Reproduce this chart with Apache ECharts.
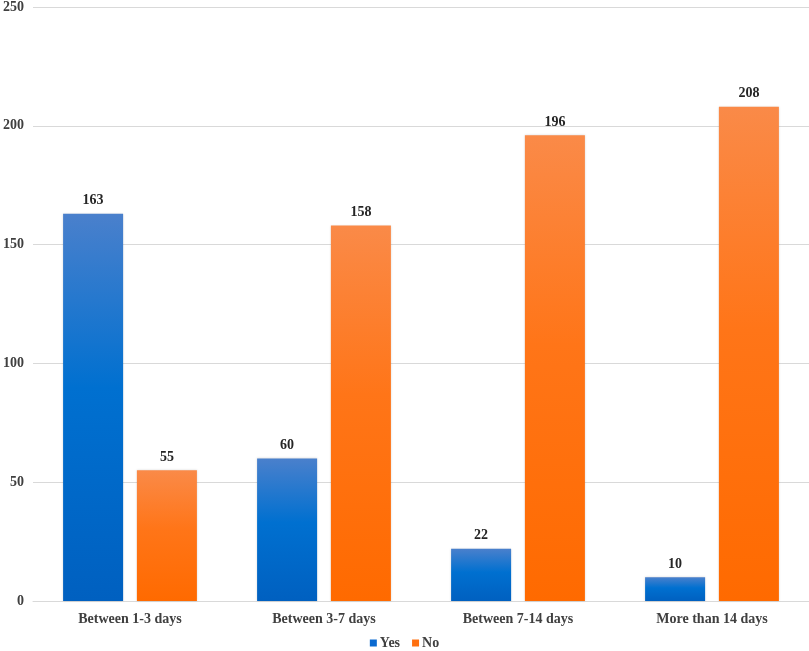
<!DOCTYPE html>
<html>
<head>
<meta charset="UTF-8" />
<script type="text/javascript" src="https://cdn.jsdelivr.net/npm/echarts@6/dist/echarts.min.js"></script>
<title>Duration</title>
<style>
	html, body { margin: 0; padding: 0; background: #fff; }
	#main { width: 809px; height: 651px; }
</style>
</head>
<body>
	<div id="main"></div>
<script type="text/javascript">
	var categories = ['Between 1-3 days', 'Between 3-7 days', 'Between 7-14 days', 'More than 14 days']
	var yesValues = [163, 60, 22, 10]
	var noValues = [55, 158, 196, 208]
	var yTicks = [0, 50, 100, 150, 200, 250]

	var serifFont = '"Liberation Serif", "DejaVu Serif", serif'

	function grad(top, mid, bottom) {
		return new echarts.graphic.LinearGradient(0, 0, 0, 1, [
			{ offset: 0, color: top },
			{ offset: 0.45, color: mid },
			{ offset: 1, color: bottom }
		])
	}

	var labelStyle = {
		show: true,
		position: 'top',
		distance: 6,
		fontFamily: serifFont,
		fontWeight: 'bold',
		fontSize: 14,
		color: '#262626'
	}

	var option = {
		animation: false,
		grid: { left: 33, right: 0, top: 7, bottom: 50, containLabel: false },
		legend: {
			bottom: 1,
			left: 'center',
			padding: 0,
			itemWidth: 7,
			itemHeight: 7,
			itemGap: 12,
			icon: 'rect',
			textStyle: { fontFamily: serifFont, fontWeight: 'bold', fontSize: 14, color: '#404040', padding: [0, 0, 0, -2] },
			data: [
				{ name: 'Yes', itemStyle: { color: '#0a6ad0' } },
				{ name: 'No', itemStyle: { color: '#ff7010' } }
			]
		},
		xAxis: {
			type: 'category',
			data: categories,
			axisLine: { lineStyle: { color: '#d9d9d9' } },
			axisTick: { show: false },
			axisLabel: { fontFamily: serifFont, fontWeight: 'bold', fontSize: 14, color: '#404040', margin: 11 }
		},
		yAxis: {
			type: 'value',
			min: yTicks[0],
			max: yTicks[yTicks.length - 1],
			interval: 50,
			axisLine: { show: false },
			axisTick: { show: false },
			splitLine: { lineStyle: { color: '#d9d9d9' } },
			axisLabel: { fontFamily: serifFont, fontWeight: 'bold', fontSize: 14, color: '#404040', margin: 9 }
		},
		series: [
			{
				name: 'Yes',
				type: 'bar',
				data: yesValues,
				barWidth: 60,
				barGap: '23%',
				itemStyle: {
					color: grad('#4a80cc', '#0070d0', '#0060c0'),
					shadowColor: 'rgba(0,0,0,0.15)', shadowBlur: 2
				},
				label: labelStyle
			},
			{
				name: 'No',
				type: 'bar',
				data: noValues,
				barWidth: 60,
				itemStyle: {
					color: grad('#fa8a48', '#ff7518', '#ff6a00'),
					shadowColor: 'rgba(0,0,0,0.15)', shadowBlur: 2
				},
				label: labelStyle
			}
		]
	}

	var myChart = echarts.init(document.getElementById('main'))
	myChart.setOption(option)
</script>
</body>
</html>
